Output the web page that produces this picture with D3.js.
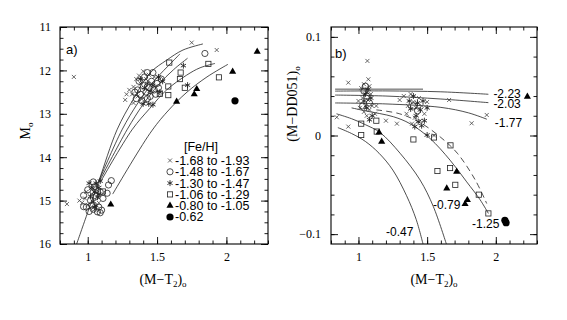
<!DOCTYPE html>
<html>
<head>
<meta charset="utf-8">
<script src="https://cdn.jsdelivr.net/npm/d3@7"></script>
<style>
  body { margin: 0; background: #fff; }
</style>
</head>
<body>
<div id="chart"></div>
<script>
// ---- legend / group names ----
const feLabels = ["-1.68 to -1.93", "-1.48 to -1.67", "-1.30 to -1.47", "-1.06 to -1.29", "-0.80 to -1.05", "-0.62"];
const symTypes = ["cross", "circle", "star", "square", "triangle", "dot"];

// ---- panel a) : M_o vs (M-T2)_o ----
const aCross = [[0.90,12.15],[1.75,11.36],[1.93,11.53],[0.85,15.08],[0.94,15.0],
  [1.28,12.55],[1.30,12.45],[1.27,12.68],[1.33,12.38],[1.35,12.2],[1.37,12.12],[1.38,12.3],[1.40,12.02],
  [1.42,12.2],[1.36,12.6],[1.44,12.1],[1.39,12.66],[1.46,12.3],[1.48,12.15],[1.33,12.75],[1.52,12.2],[1.32,12.55],
  [0.98,14.95],[1.0,15.1],[1.02,14.72],[1.05,15.2],[1.07,14.62],[1.03,14.85],[1.08,15.05],[0.99,14.8],[0.96,15.05]];
const aCircle = [[1.845,11.61],[1.17,14.54],[1.15,14.64],[1.14,14.83],
  [1.36,12.45],[1.38,12.55],[1.40,12.35],[1.42,12.5],[1.44,12.4],[1.46,12.25],[1.41,12.15],[1.37,12.25],
  [1.43,12.65],[1.48,12.45],[1.50,12.3],[1.53,12.2],[1.39,12.7],[1.45,12.6],[1.35,12.65],[1.34,12.5],
  [1.47,12.05],[1.49,12.55],[1.51,12.4],[1.43,12.05],
  [1.0,14.75],[1.02,15.0],[1.04,15.2],[1.06,14.9],[1.08,15.15],[1.01,15.25],[1.05,14.68],[1.09,14.8],
  [0.99,15.15],[1.03,15.1],[1.1,15.22],[1.07,15.26],[0.97,14.88],[1.04,14.57],[1.11,14.95],[0.97,15.14],
  [1.09,15.28],[1.06,14.75]];
const aStar = [[1.41,12.4],[1.43,12.3],[1.45,12.48],[1.38,12.2],[1.47,12.35],[1.51,12.15],[1.54,12.25],
  [1.40,12.77],[1.44,12.77],[1.47,12.79],[1.69,11.89],[1.72,12.34],[1.52,12.5],
  [1.03,14.7],[1.05,14.8],[1.07,14.92],[1.04,15.02],[1.06,15.12],[1.02,14.9],[1.08,14.7],[1.09,14.55],
  [1.01,14.6],[1.05,15.15],[1.06,14.6],[1.08,14.85]];
const aSquare = [[1.588,11.82],[1.67,12.05],[1.665,12.2],[1.581,12.37],[1.581,12.57],[1.52,12.54],
  [1.70,12.40],[1.87,11.85],[1.946,12.16],[1.11,14.79]];
const aTriangle = [[1.786,12.43],[1.768,12.55],[1.641,12.72],[2.045,12.03],[2.222,11.57],[1.166,15.09]];
const aDot = [[2.062,12.70]];

// fiducial sequences
const aLines = [
  [[0.92,16.0],[1.0,15.27],[1.08,14.55],[1.211,13.37],[1.326,12.68],[1.449,12.06],[1.571,11.76],[1.687,11.53],[1.831,11.39]],
  [[1.08,14.55],[1.247,13.37],[1.362,12.75],[1.485,12.22],[1.607,11.81],[1.665,11.62]],
  [[1.085,14.55],[1.283,13.37],[1.40,12.78],[1.51,12.33],[1.62,11.98],[1.72,11.72]],
  [[1.09,14.58],[1.319,13.37],[1.449,12.87],[1.569,12.45],[1.713,12.11],[1.81,11.94],[1.918,11.84]],
  [[1.18,14.85],[1.449,13.45],[1.571,12.96],[1.716,12.50],[1.86,12.15],[2.011,11.86]]
];

// ---- panel b) : (M-DD051)_o vs (M-T2)_o ----
const bCross = [[0.926,0.0536],[1.065,0.0756],[1.072,0.057],[0.842,0.0185],[0.926,0.009],[1.824,0.0124],
  [1.66,0.036],[1.934,0.0208],
  [1.02,0.048],[1.04,0.052],[1.06,0.044],[1.08,0.05],[1.03,0.038],[1.05,0.03],[1.07,0.036],[1.09,0.042],
  [1.01,0.028],[1.04,0.024],[1.10,0.03],[1.06,0.02],[1.12,0.022],[1.0,0.035],[1.13,0.03],[1.08,0.026],
  [1.30,0.036],[1.33,0.040],[1.36,0.030],[1.38,0.042],[1.40,0.034],[1.42,0.028],[1.44,0.038],[1.46,0.030],
  [1.48,0.022],[1.35,0.022],[1.41,0.018],[1.50,0.034],[1.39,0.012],[1.45,0.015],
  [1.20,0.015],[1.28,0.012],[1.55,0.0]];
const bCircle = [[1.04,0.045],[1.06,0.04],[1.05,0.05],[1.08,0.033],[1.03,0.03],[1.40,0.03],[1.43,0.025]];
const bStar = [[1.05,0.042],[1.07,0.047],[1.04,0.035],[1.09,0.038],[1.06,0.028],[1.10,0.02],[1.08,0.016],
  [1.37,0.035],[1.40,0.040],[1.43,0.033],[1.45,0.026],[1.47,0.035],[1.42,0.020],[1.48,0.015],[1.46,0.010],
  [1.41,0.009],[1.50,0.0005],[1.435,0.014],[1.38,0.027],[1.50,0.028]];
const bSquare = [[1.02,0.012],[1.02,0.0005],[1.133,0.004],[1.13,0.015],[1.40,-0.004],[1.55,-0.002],
  [1.67,-0.01],[1.575,-0.036],[1.667,-0.033],[1.705,-0.05],[1.876,-0.06],[1.946,-0.079]];
const bTriangle = [[1.169,-0.0063],[1.15,0.003],[1.643,-0.0536],[1.715,-0.0367],[1.776,-0.0695],[1.793,-0.0654],[2.23,0.0394]];
const bDot = [[2.075,-0.0884],[2.066,-0.086]];

// model curves, labelled by [Fe/H]
const bCurveNames = ["-2.23", "-2.03", "-1.77", "-1.25", "-0.79", "-0.47"];
const bCurves = [
  [[0.83,0.045],[1.2,0.0452],[1.6,0.0443],[1.946,0.0418]],
  [[0.83,0.041],[1.2,0.040],[1.6,0.037],[1.946,0.0333]],
  [[0.83,0.033],[1.2,0.032],[1.6,0.0285],[1.8,0.023],[1.935,0.0165]],
  [[0.95,0.028],[1.05,0.025],[1.255,0.019],[1.375,0.012],[1.521,-0.003],[1.667,-0.025],[1.788,-0.047],[1.885,-0.065],[1.946,-0.079]],
  [[0.84,0.022],[0.95,0.017],[1.05,0.011],[1.157,0.003],[1.303,-0.018],[1.448,-0.045],[1.545,-0.072],[1.64,-0.11]],
  [[0.85,0.008],[0.95,0.002],[1.05,-0.006],[1.15,-0.018],[1.25,-0.035],[1.35,-0.061],[1.42,-0.085],[1.47,-0.11]]
];
const bFlat = [[0.83,0.047],[1.47,0.047]];
const bDashed = [[1.13,0.026],[1.30,0.022],[1.45,0.013],[1.6,-0.002],[1.72,-0.018],[1.85,-0.045],[1.934,-0.069]];

// ---- set up ----
const width = 567, height = 320;
const svg = d3.select("#chart").append("svg")
  .attr("width", width).attr("height", height);

const serif = "'Liberation Serif', 'Times New Roman', serif";
const sans = "'Liberation Sans', Arial, sans-serif";

const xA = d3.scaleLinear([0.8, 2.3], [60, 268]);
const yA = d3.scaleLinear([11, 16], [27, 244]);
const xB = d3.scaleLinear([0.8, 2.3], [331, 537]);
const yB = d3.scaleLinear([0.11, -0.11], [27, 244]);

const xMinor = d3.range(8, 24).map(v => v / 10);

// ticks on all four sides, pointing inward
function drawAxes(g, x, y, o) {
  const [x0, x1] = x.range(), [y0, y1] = y.range();
  const sides = [
    [d3.axisBottom(x), `translate(0,${y1})`, o.xMajor, o.xMinor, o.xFmt, 8],
    [d3.axisTop(x), `translate(0,${y0})`, o.xMajor, o.xMinor, null, 0],
    [d3.axisLeft(y), `translate(${x0},0)`, o.yMajor, o.yMinor, o.yFmt, o.yPad],
    [d3.axisRight(y), `translate(${x1},0)`, o.yMajor, o.yMinor, null, 0]
  ];
  sides.forEach(([ax, tr, major, minor, fmt, pad]) => {
    g.append("g").attr("transform", tr)
      .call(ax.tickValues(minor).tickSize(-3.5).tickFormat(""))
      .call(s => s.select(".domain").remove());
    const m = g.append("g").attr("transform", tr)
      .call(ax.tickValues(major).tickSize(-7).tickPadding(pad).tickFormat(fmt ? fmt : ""))
      .call(s => s.select(".domain").remove());
    m.selectAll("text").attr("font-family", serif).attr("font-size", 12).attr("fill", "#000");
  });
  g.selectAll(".tick line").attr("stroke", "#000").attr("stroke-width", 0.9);
  g.append("rect")
    .attr("x", x0).attr("y", y0).attr("width", x1 - x0).attr("height", y1 - y0)
    .attr("fill", "none").attr("stroke", "#000").attr("stroke-width", 1.1);
}

function marker(g, type, px, py) {
  const t = `translate(${px},${py})`;
  if (type === "cross") {
    g.append("path").attr("transform", t).attr("d", "M-2,-2L2,2M-2,2L2,-2")
      .attr("stroke", "#444").attr("stroke-width", 0.8).attr("fill", "none");
  } else if (type === "circle") {
    g.append("circle").attr("transform", t).attr("r", 3.1)
      .attr("stroke", "#222").attr("stroke-width", 0.8).attr("fill", "none");
  } else if (type === "star") {
    g.append("path").attr("transform", t).attr("d", "M0,-3V3M-2.6,-1.5L2.6,1.5M-2.6,1.5L2.6,-1.5")
      .attr("stroke", "#222").attr("stroke-width", 0.9).attr("fill", "none");
  } else if (type === "square") {
    g.append("rect").attr("transform", t).attr("x", -2.6).attr("y", -2.6).attr("width", 5.2).attr("height", 5.2)
      .attr("stroke", "#222").attr("stroke-width", 0.8).attr("fill", "none");
  } else if (type === "triangle") {
    g.append("path").attr("transform", t).attr("d", d3.symbol(d3.symbolTriangle, 22)())
      .attr("fill", "#000");
  } else {
    g.append("circle").attr("transform", t).attr("r", 3.6).attr("fill", "#000");
  }
}

function plotGroups(g, x, y, groups) {
  groups.forEach((pts, i) => {
    pts.forEach(d => marker(g, symTypes[i], x(d[0]), y(d[1])));
  });
}

function clip(id, x, y) {
  svg.append("clipPath").attr("id", id).append("rect")
    .attr("x", x.range()[0]).attr("y", y.range()[0])
    .attr("width", x.range()[1] - x.range()[0]).attr("height", y.range()[1] - y.range()[0]);
}

// ---- panel a ----
clip("clipA", xA, yA);
const gA = svg.append("g");
const lineA = d3.line().x(d => xA(d[0])).y(d => yA(d[1])).curve(d3.curveCatmullRom);
gA.append("g").attr("clip-path", "url(#clipA)")
  .selectAll("path").data(aLines).join("path")
  .attr("d", lineA).attr("fill", "none").attr("stroke", "#222").attr("stroke-width", 0.8);
plotGroups(gA, xA, yA, [aCross, aCircle, aStar, aSquare, aTriangle, aDot]);

drawAxes(gA, xA, yA, {
  xMajor: [1, 1.5, 2], xMinor: xMinor, xFmt: d3.format(""),
  yMajor: d3.range(11, 17), yMinor: d3.range(44, 65).map(v => v / 4), yFmt: d3.format("d"), yPad: 9
});

// legend
const leg = gA.append("g");
leg.append("text").attr("x", 201).attr("y", 151).attr("text-anchor", "middle")
  .attr("font-family", sans).attr("font-size", 12.5).text("[Fe/H]");
feLabels.forEach((lab, i) => {
  const cy = 160.5 + i * 11.3;
  marker(leg, symTypes[i], 170, cy);
  leg.append("text").attr("x", 175).attr("y", cy + 4.4)
    .attr("font-family", sans).attr("font-size", 12.5).text(lab);
});

gA.append("text").attr("x", 66).attr("y", 54)
  .attr("font-family", sans).attr("font-size", 13).text("a)");

// axis titles a
const xtA = gA.append("text").attr("x", 163).attr("y", 284).attr("text-anchor", "middle")
  .attr("font-family", serif).attr("font-size", 14);
xtA.append("tspan").text("(M\u2212T");
xtA.append("tspan").attr("font-size", 9).attr("dy", 3).text("2");
xtA.append("tspan").attr("dy", -3).text(")");
xtA.append("tspan").attr("font-size", 9).attr("dy", 3).text("o");

const ytA = gA.append("text").attr("transform", "translate(30,131) rotate(-90)")
  .attr("text-anchor", "middle").attr("font-family", serif).attr("font-size", 14);
ytA.append("tspan").text("M");
ytA.append("tspan").attr("font-size", 9).attr("dy", 3).text("o");

// ---- panel b ----
clip("clipB", xB, yB);
const gB = svg.append("g");
const lineB = d3.line().x(d => xB(d[0])).y(d => yB(d[1])).curve(d3.curveCatmullRom);
const cl = gB.append("g").attr("clip-path", "url(#clipB)");
cl.selectAll("path.solid").data(bCurves.concat([bFlat])).join("path")
  .attr("class", "solid")
  .attr("d", lineB).attr("fill", "none").attr("stroke", "#222").attr("stroke-width", 0.8);
cl.append("path").datum(bDashed)
  .attr("d", lineB).attr("fill", "none").attr("stroke", "#222").attr("stroke-width", 0.8)
  .attr("stroke-dasharray", "6,4");
plotGroups(gB, xB, yB, [bCross, bCircle, bStar, bSquare, bTriangle, bDot]);

drawAxes(gB, xB, yB, {
  xMajor: [1, 1.5, 2], xMinor: xMinor, xFmt: d3.format(""),
  yMajor: [-0.1, 0, 0.1], yMinor: d3.range(-5, 6).map(v => v / 50), yFmt: d3.format(""), yPad: 10
});

// curve labels: placed next to the end of each curve (pixel offsets)
const labelPos = [
  { dx: 5, dy: -0.5, anchor: "start" },
  { dx: 5, dy: 1, anchor: "start" },
  { dx: 8, dy: 3.5, anchor: "start" },
  { dx: 11, dy: 10, anchor: "end" },
  { px: 433, py: 205, anchor: "start" },
  { px: 386, py: 231.5, anchor: "start" }
];
bCurveNames.forEach((name, i) => {
  const end = bCurves[i][bCurves[i].length - 1];
  const p = labelPos[i];
  const lx = p.px !== undefined ? p.px : xB(end[0]) + p.dx;
  const ly = p.py !== undefined ? p.py : yB(end[1]) + p.dy;
  gB.append("text").attr("x", lx).attr("y", ly + 4.3).attr("text-anchor", p.anchor)
    .attr("font-family", sans).attr("font-size", 12).text(name);
});

gB.append("text").attr("x", 335).attr("y", 58)
  .attr("font-family", sans).attr("font-size", 13).text("b)");

const xtB = gB.append("text").attr("x", 434).attr("y", 284).attr("text-anchor", "middle")
  .attr("font-family", serif).attr("font-size", 14);
xtB.append("tspan").text("(M\u2212T");
xtB.append("tspan").attr("font-size", 9).attr("dy", 3).text("2");
xtB.append("tspan").attr("dy", -3).text(")");
xtB.append("tspan").attr("font-size", 9).attr("dy", 3).text("o");

const ytB = gB.append("text").attr("transform", "translate(297,104) rotate(-90)")
  .attr("text-anchor", "middle").attr("font-family", serif).attr("font-size", 14);
ytB.append("tspan").text("(M\u2212DD051)");
ytB.append("tspan").attr("font-size", 9).attr("dy", 3).text("o");
</script>
</body>
</html>
